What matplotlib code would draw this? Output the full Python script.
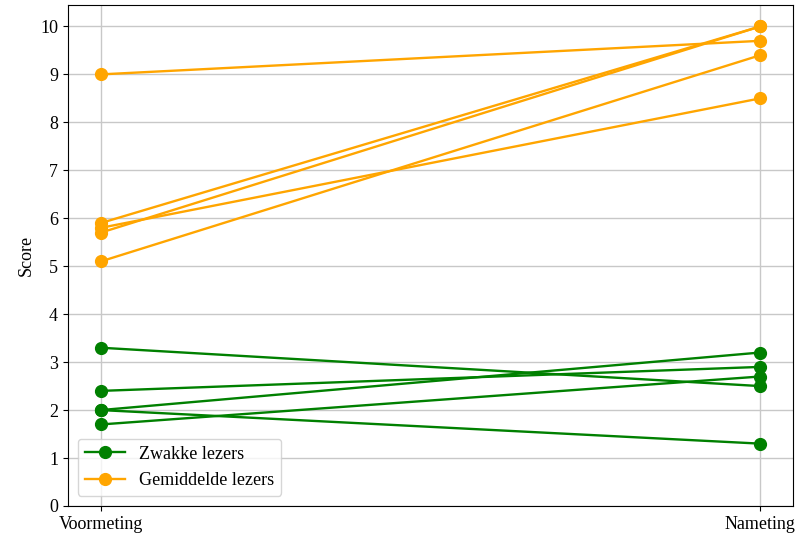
import matplotlib
matplotlib.use("Agg")
import matplotlib.pyplot as plt

plt.rcParams['font.family'] = ['Liberation Serif', 'DejaVu Serif']

momenten = ["Voormeting", "Nameting"]

# Scores per leerling: (voormeting, nameting)
zwak_voor = [3.3, 2.4, 2.0, 2.0, 1.7]
zwak_na = [2.5, 2.9, 3.2, 1.3, 2.7]

gemiddeld_voor = [9.0, 5.9, 5.8, 5.7, 5.1]
gemiddeld_na = [9.7, 10.0, 8.5, 10.0, 9.4]

fig = plt.figure(figsize=(7.98, 5.40), dpi=100)
ax = fig.add_axes([0.085, 0.063, 0.909, 0.928])

x = [0, 1]
for i, (v, n) in enumerate(zip(zwak_voor, zwak_na)):
    ax.plot(x, [v, n], color="green", marker="o", markersize=8.5, linewidth=1.7,
            label="Zwakke lezers" if i == 0 else None)
for i, (v, n) in enumerate(zip(gemiddeld_voor, gemiddeld_na)):
    ax.plot(x, [v, n], color="orange", marker="o", markersize=8.5, linewidth=1.7,
            label="Gemiddelde lezers" if i == 0 else None)

ax.set_xticks(x)
ax.set_xticklabels(momenten)
ax.set_yticks(range(0, 11))
ax.set_xlim(-0.05, 1.05)
ax.set_ylim(0, 10.45)
ax.set_ylabel("Score", fontsize=13)
ax.tick_params(labelsize=13)
ax.grid(True, color="#c8c8c8", linewidth=1.0)
ax.set_axisbelow(True)
ax.legend(loc="lower left", fontsize=13, handlelength=2.2, borderaxespad=0.55)

fig.savefig("out.png", dpi=100)
